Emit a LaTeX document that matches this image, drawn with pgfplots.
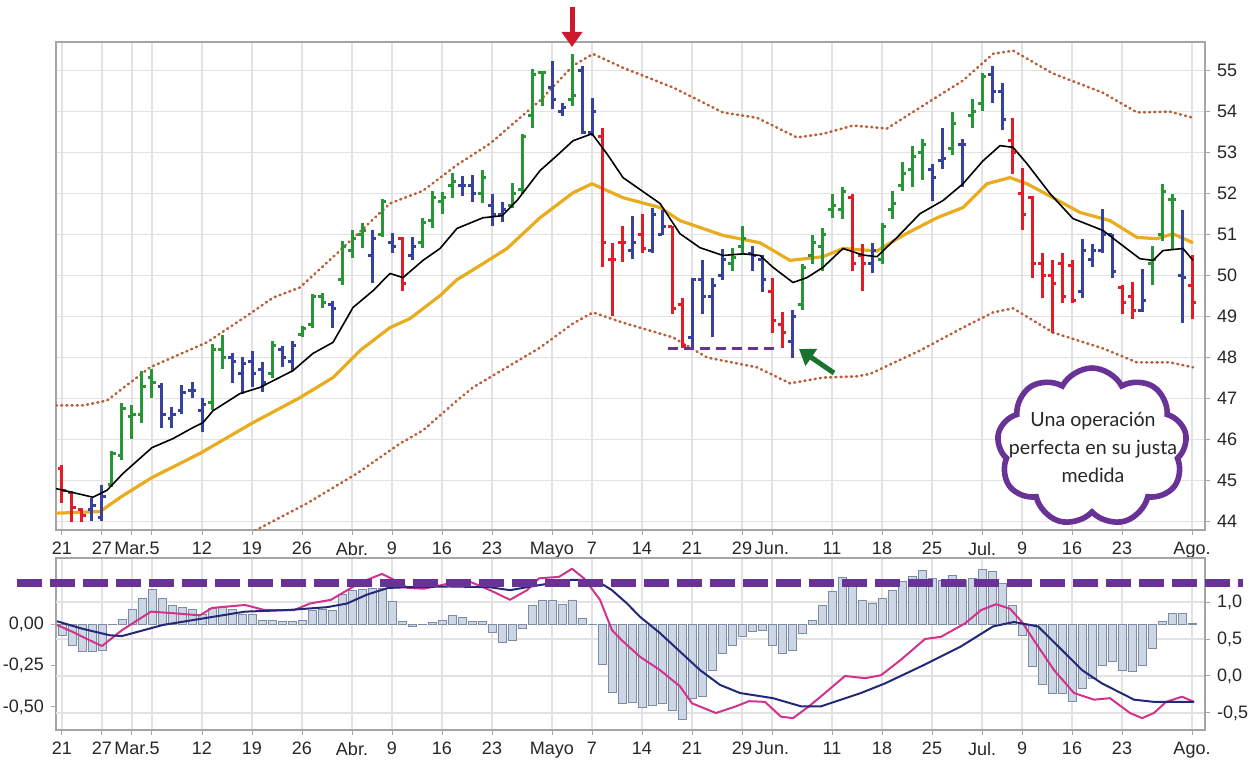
\documentclass[border=0pt]{standalone}
\usepackage{pgfplots}
\pgfplotsset{compat=1.18}
\usepackage{pgfplotstable}
\usepackage{fontspec}
\setmainfont{Liberation Sans}
\newfontfamily\cloudfont{Lato}
\usetikzlibrary{shapes.symbols,arrows.meta}

\definecolor{cgreen}{RGB}{40,150,55}
\definecolor{cblue}{RGB}{55,65,160}
\definecolor{cred}{RGB}{225,30,40}
\definecolor{cgold}{RGB}{232,172,30}
\definecolor{cband}{RGB}{185,95,55}
\definecolor{gridc}{RGB}{226,226,226}
\definecolor{framec}{RGB}{165,165,165}
\definecolor{histfill}{RGB}{205,214,228}
\definecolor{histedge}{RGB}{125,140,165}
\definecolor{cmag}{RGB}{210,50,140}
\definecolor{cnavy}{RGB}{35,40,120}
\definecolor{cpurple}{RGB}{105,50,150}
\definecolor{arrowred}{RGB}{205,25,45}
\definecolor{arrowgreen}{RGB}{25,115,45}

\pgfplotsset{/pgf/number format/assume math mode=true}

% i open high low close
\pgfplotstableread{
i o h l c
5 44.9 45.73 44.83 45.65
6 45.6 46.88 45.49 46.75
7 46.55 46.83 46.02 46.6
8 46.6 47.68 46.39 47.3
9 47.5 47.73 47.02 47.4
15 46.9 48.34 46.71 48.2
16 48.2 48.54 47.73 48.0
21 47.6 48.41 47.51 48.3
24 48.55 48.78 48.49 48.7
25 48.8 49.56 48.73 49.5
26 49.5 49.58 49.2 49.35
28 49.9 50.85 49.76 50.7
29 50.6 51.12 50.44 50.9
30 51.0 51.29 50.68 51.1
32 51.0 51.88 50.93 51.8
36 50.8 51.41 50.68 51.3
37 51.35 52.07 51.17 51.9
38 51.8 52.05 51.51 51.9
39 52.2 52.51 51.9 52.3
42 52.0 52.58 51.76 52.4
45 51.7 52.27 51.66 52.0
46 52.1 53.46 52.0 53.4
47 53.9 55.05 53.59 54.9
48 54.95 55.0 54.15 54.95
51 54.3 55.41 54.15 54.4
67 50.3 50.68 50.12 50.45
68 50.7 51.22 50.49 50.9
74 49.3 50.29 49.15 50.2
75 50.5 50.98 50.29 50.8
76 50.7 51.17 50.12 51.0
77 51.6 52.0 51.41 51.7
78 51.6 52.15 51.39 52.05
82 50.4 51.29 50.29 51.2
83 51.6 52.07 51.39 51.75
84 52.2 52.76 52.07 52.5
85 52.6 53.17 52.15 52.9
86 53.0 53.34 52.32 53.2
89 53.1 53.98 52.93 53.7
91 53.9 54.32 53.61 54.0
92 54.2 54.95 54.02 54.85
109 50.3 50.73 49.76 50.4
110 51.0 52.24 50.85 52.05
111 51.85 52.0 50.66 51.85
}\tabG

\pgfplotstableread{
i o h l c
3 44.3 44.56 44.02 44.4
4 44.1 44.88 44.02 44.6
10 47.3 47.37 46.27 46.6
11 46.5 46.78 46.27 46.6
12 46.7 47.32 46.63 47.15
13 47.2 47.4 47.0 47.2
14 46.7 47.0 46.17 46.85
17 48.0 48.12 47.37 47.9
18 47.6 48.0 47.12 47.85
19 47.9 48.17 47.27 47.6
20 47.7 47.88 47.15 47.4
22 48.2 48.29 47.76 48.0
23 47.9 48.41 47.68 48.3
27 49.3 49.39 48.73 49.2
31 50.5 51.1 49.83 50.9
33 50.8 51.05 50.54 50.7
35 50.5 50.93 50.37 50.7
40 52.2 52.43 51.95 52.2
41 52.2 52.46 51.8 52.0
43 51.7 52.0 51.2 51.5
44 51.5 51.8 51.3 51.6
49 54.6 55.24 54.07 54.3
50 54.0 54.22 53.9 54.1
52 55.0 55.12 53.46 53.5
53 53.5 54.34 53.41 54.0
57 50.6 51.46 50.41 50.8
59 50.6 51.66 50.56 51.5
60 51.0 51.59 50.98 51.2
63 48.5 49.93 48.24 49.9
64 49.9 50.37 49.07 49.5
65 49.5 49.95 48.49 49.75
66 50.0 50.66 49.88 50.4
69 50.55 50.71 50.12 50.5
70 50.4 50.49 49.59 49.9
73 48.4 49.15 47.98 49.0
81 50.3 50.8 50.05 50.6
87 52.6 52.73 51.83 52.4
88 52.8 53.61 52.61 52.85
90 53.2 53.34 52.15 53.2
93 54.9 55.12 54.22 54.5
94 54.5 54.71 53.54 53.8
102 49.6 50.9 49.44 50.6
103 50.4 50.78 50.2 50.6
104 50.6 51.63 50.56 51.0
105 51.0 51.02 49.95 50.1
108 49.15 50.15 49.1 49.4
112 50.0 51.59 48.85 49.95
}\tabB

\pgfplotstableread{
i o h l c
0 45.3 45.37 44.44 44.75
1 44.7 44.73 43.98 44.35
2 44.3 44.32 43.98 44.15
34 50.9 50.93 49.63 49.8
54 53.4 53.61 50.2 50.8
55 50.4 50.8 49.02 50.4
56 50.8 51.22 50.32 50.8
58 51.0 51.51 50.56 50.65
61 51.2 51.22 49.07 49.2
62 49.3 49.46 48.24 48.3
71 49.6 49.95 48.59 48.9
72 48.8 49.1 48.24 48.6
79 51.9 52.0 50.12 50.3
80 50.5 50.78 49.63 50.3
95 53.3 53.85 52.49 53.0
96 52.0 52.63 51.1 51.5
97 51.9 51.95 49.95 50.3
98 50.3 50.54 49.44 50.0
99 50.0 50.37 48.59 49.8
100 50.3 50.54 49.34 49.5
101 50.25 50.37 49.32 49.4
106 49.7 49.78 49.05 49.35
107 49.5 49.85 48.95 49.15
113 49.75 50.49 48.95 49.35
}\tabR

% MACD histogram (left scale)
\pgfplotstableread{
i v
0 -0.07
1 -0.13
2 -0.165
3 -0.165
4 -0.16
5 -0.005
6 0.026
7 0.087
8 0.157
9 0.207
10 0.155
11 0.11
12 0.10
13 0.09
14 0.055
15 0.095
16 0.10
17 0.09
18 0.06
19 0.055
20 0.02
21 0.024
22 0.015
23 0.015
24 0.02
25 0.08
26 0.09
27 0.08
28 0.18
29 0.20
30 0.21
31 0.215
32 0.215
33 0.135
34 0.015
35 -0.015
36 -0.005
37 0.01
38 0.024
39 0.05
40 0.04
41 0.015
42 0.015
43 -0.05
44 -0.11
45 -0.10
46 -0.025
47 0.11
48 0.145
49 0.14
50 0.12
51 0.145
52 0.035
53 -0.005
54 -0.245
55 -0.41
56 -0.478
57 -0.474
58 -0.502
59 -0.488
60 -0.478
61 -0.518
62 -0.574
63 -0.448
64 -0.438
65 -0.277
66 -0.177
67 -0.127
68 -0.072
69 -0.046
70 -0.036
71 -0.127
72 -0.177
73 -0.157
74 -0.056
75 0.024
76 0.114
77 0.195
78 0.279
79 0.255
80 0.145
81 0.124
82 0.155
83 0.205
84 0.255
85 0.285
86 0.321
87 0.275
88 0.265
89 0.295
90 0.265
91 0.275
92 0.329
93 0.315
94 0.245
95 0.114
96 -0.066
97 -0.257
98 -0.367
99 -0.418
100 -0.418
101 -0.468
102 -0.388
103 -0.327
104 -0.247
105 -0.227
106 -0.277
107 -0.287
108 -0.247
109 -0.147
110 0.016
111 0.066
112 0.066
113 0.003
}\tabH

\pgfplotsset{
  datexticks/.style={
    xtick={0,4,7,9,14,19,24,29,33,38,43,49,53,58,63,68,71,77,82,87,92,96,101,106,113},
    xticklabels={21,27,{Mar.\rlap{5}},{},12,19,26,Abr.,9,16,23,Mayo,7,14,21,29,Jun.,11,18,25,Jul.,9,16,23,Ago.},
  },
  panel/.style={
    scale only axis, width=574.5pt, anchor=south west,
    xmin=-0.6, xmax=114.3,
    datexticks,
    tick align=outside, major tick length=2.5pt,
    tick style={draw=framec, line width=0.5pt},
    axis line style={draw=framec, line width=1pt},
    grid style={draw=gridc, line width=0.7pt},
    ticklabel style={font=\fontsize{9}{10}\selectfont, text=black!85},
  },
  band/.style={cband, line width=1.3pt, line cap=round, dash pattern=on 0.5pt off 2.1pt},
}

\begin{document}
\begin{tikzpicture}
\useasboundingbox (0,0) rectangle (624.5pt,380.5pt);

% ---------------- upper panel ----------------
\begin{axis}[panel, at={(28pt,115.5pt)}, height=244pt,
  ymin=43.79, ymax=55.70, ytick={44,...,55},
  xtick pos=left, xticklabel pos=left,
  ytick pos=right, yticklabel pos=right,
  xmajorgrids, ymajorgrids]
  % bands
  \addplot[band] coordinates {
   (-0.6,46.83) (2.1,46.83) (4.5,46.95) (8.8,47.76) (14.5,48.37) (18.8,49.07) (21.1,49.46) (23.8,49.71) (27.8,50.61) (32.8,51.76) (36.1,52.07) (39.5,52.7) (42.8,53.22) (47.8,54.27) (51.1,55.12) (53.1,55.41) (56.1,55.07) (61.1,54.59) (66.1,53.98) (69.5,53.85) (73.5,53.37) (76.1,53.46) (79.1,53.66) (82.5,53.59) (85.8,54.1) (90.1,54.76) (93.1,55.41) (95.1,55.49) (99.1,54.93) (104.1,54.46) (107.5,53.98) (110.8,54.0) (113.1,53.85)};
  \addplot[band] coordinates {
   (13.8,43.05) (19.5,43.8) (24.5,44.44) (29.5,45.17) (33.8,45.9) (36.1,46.22) (39.5,46.95) (41.1,47.27) (47.8,48.24) (51.1,48.83) (53.1,49.1) (56.1,48.85) (61.1,48.49) (64.5,48.0) (69.5,47.76) (72.8,47.37) (76.1,47.51) (79.5,47.54) (80.8,47.6) (85.8,48.17) (90.1,48.73) (93.1,49.1) (95.1,49.2) (99.1,48.61) (104.1,48.22) (107.5,47.88) (110.8,47.88) (113.1,47.76)};
  % slow average
  \addplot[cgold, line width=1.6pt] coordinates {
   (-0.6,44.2) (3.8,44.24) (6.1,44.63) (9.0,45.07) (13.8,45.66) (19.1,46.41) (23.8,47.02) (27.1,47.51) (29.8,48.17) (32.8,48.73) (34.8,48.95) (37.8,49.51) (39.5,49.9) (42.1,50.29) (44.5,50.66) (47.8,51.41) (51.1,52.02) (53.0,52.24) (56.1,51.9) (59.8,51.66) (61.8,51.34) (66.1,50.98) (69.8,50.8) (72.8,50.37) (76.1,50.46) (78.1,50.66) (81.5,50.6) (84.1,50.98) (87.5,51.41) (90.1,51.66) (92.5,52.24) (94.8,52.39) (96.5,52.24) (99.1,51.9) (101.8,51.54) (104.8,51.34) (107.5,50.93) (109.5,50.9) (111.1,51.02) (113.1,50.8)};
  % bars
  \addplot[cgreen, line width=1.5pt, no markers, quiver={u=0, v=\thisrow{h}-\thisrow{l}}] table[x=i, y=l] \tabG;
  \addplot[cgreen, line width=1.5pt, no markers, quiver={u=-0.4, v=0}] table[x=i, y=o] \tabG;
  \addplot[cgreen, line width=1.5pt, no markers, quiver={u=0.4, v=0}] table[x=i, y=c] \tabG;
  \addplot[cblue, line width=1.5pt, no markers, quiver={u=0, v=\thisrow{h}-\thisrow{l}}] table[x=i, y=l] \tabB;
  \addplot[cblue, line width=1.5pt, no markers, quiver={u=-0.4, v=0}] table[x=i, y=o] \tabB;
  \addplot[cblue, line width=1.5pt, no markers, quiver={u=0.4, v=0}] table[x=i, y=c] \tabB;
  \addplot[cred, line width=1.5pt, no markers, quiver={u=0, v=\thisrow{h}-\thisrow{l}}] table[x=i, y=l] \tabR;
  \addplot[cred, line width=1.5pt, no markers, quiver={u=-0.4, v=0}] table[x=i, y=o] \tabR;
  \addplot[cred, line width=1.5pt, no markers, quiver={u=0.4, v=0}] table[x=i, y=c] \tabR;
  % fast average
  \addplot[black, line width=0.8pt, line join=round] coordinates {
   (-0.6,44.8) (3.1,44.59) (4.5,44.76) (6.1,45.17) (9.0,45.8) (11.1,46.02) (13.1,46.29) (14.1,46.41) (15.1,46.7) (17.8,47.12) (19.8,47.27) (23.1,47.68) (25.1,48.1) (27.1,48.37) (29.1,49.22) (31.1,49.63) (32.8,50.05) (34.1,49.95) (36.1,50.37) (37.8,50.66) (39.5,51.15) (42.1,51.41) (44.0,51.46) (45.5,51.83) (47.8,52.56) (49.5,52.93) (51.1,53.29) (53.0,53.46) (54.5,52.97) (56.1,52.39) (59.8,51.76) (61.8,51.02) (63.8,50.68) (66.1,50.49) (68.1,50.53) (69.8,50.49) (71.1,50.2) (73.1,49.83) (74.5,49.95) (76.1,50.2) (78.1,50.66) (80.1,50.5) (81.5,50.46) (83.5,50.93) (85.8,51.51) (88.1,51.83) (90.1,52.24) (92.1,52.8) (93.8,53.17) (95.1,53.13) (96.5,52.73) (98.8,52.0) (101.1,51.39) (104.1,51.1) (105.8,50.78) (107.8,50.41) (109.1,50.37) (110.1,50.61) (112.1,50.66) (113.1,50.37)};
  % support line
  \draw[cpurple, line width=1.5pt, dash pattern=on 5pt off 3pt] (axis cs:60.6,48.22) -- (axis cs:71.8,48.22);
\end{axis}

% ---------------- lower panel: histogram (left scale) ----------------
\begin{axis}[panel, at={(28pt,15.5pt)}, height=86pt,
  ymin=-0.639, ymax=0.398, ytick={-0.5,-0.25,0},
  xtick pos=left, xticklabel pos=left,
  ytick pos=left, yticklabel pos=left,
  yticklabel style={/pgf/number format/.cd, fixed, fixed zerofill, precision=2, use comma},
  xmajorgrids,
  extra y ticks={0.1325,-0.0904,-0.3133,-0.5361},
  extra y tick labels={},
  extra y tick style={grid=major, major tick length=0pt}]
  \addplot[ybar, bar width=0.8, fill=histfill, draw=histedge, line width=0.4pt] table[x=i, y=v] \tabH;
\end{axis}

% ---------------- lower panel: lines (right scale) ----------------
\begin{axis}[panel, at={(28pt,15.5pt)}, height=86pt,
  ymin=-0.730, ymax=1.595, ytick={-0.5,0,0.5,1},
  axis x line=none, axis y line*=right,
  yticklabel style={/pgf/number format/.cd, fixed, fixed zerofill, precision=1, use comma}]
  \addplot[cmag, line width=1pt, line join=round] coordinates {
   (-0.5,0.69) (1,0.6) (2.5,0.5) (4.0,0.405) (6.0,0.62) (8.9,0.87) (11.0,0.85) (13.8,0.82) (15.0,0.92) (18.3,0.96) (20.3,0.89) (23.2,0.89) (24.8,0.98) (26.9,1.03) (28.9,1.19) (30.5,1.30) (32.0,1.38) (33.2,1.30) (34.6,1.19) (36.2,1.18) (38.7,1.25) (40.7,1.28) (42.8,1.16) (44.8,1.03) (46.5,1.16) (47.7,1.32) (49.7,1.34) (51.0,1.45) (52.2,1.32) (53.8,1.03) (55.0,0.62) (56.0,0.48) (57.8,0.26) (59.8,0.08) (61.8,-0.14) (63.0,-0.37) (65.4,-0.5) (67.4,-0.41) (68.7,-0.34) (70.3,-0.35) (71.9,-0.55) (73.1,-0.57) (74.7,-0.41) (76.3,-0.23) (78.3,0.0) (80.3,-0.03) (81.9,0.01) (83.9,0.22) (86.3,0.5) (87.9,0.53) (90.3,0.71) (91.9,0.89) (93.4,0.97) (94.8,0.91) (96.0,0.73) (97.2,0.48) (99.2,0.08) (101.2,-0.23) (103.2,-0.32) (104.8,-0.30) (106.8,-0.5) (108.0,-0.57) (109.2,-0.5) (110.4,-0.35) (112.0,-0.28) (113.2,-0.35)};
  \addplot[cnavy, line width=1pt, line join=round] coordinates {
   (-0.5,0.74) (2,0.64) (4.8,0.55) (6.0,0.54) (10.1,0.69) (14.2,0.78) (18.3,0.87) (22.4,0.89) (26.5,0.93) (28.5,0.98) (30.5,1.1) (32.6,1.19) (34.6,1.2) (38.7,1.21) (42.8,1.2) (44.8,1.16) (46.9,1.21) (51.0,1.3) (52.2,1.3) (53.8,1.26) (55.0,1.16) (56.5,0.98) (57.8,0.8) (59.8,0.58) (61.8,0.33) (63.8,0.08) (65.8,-0.12) (67.8,-0.23) (71.1,-0.3) (73.9,-0.41) (75.9,-0.41) (79.9,-0.23) (82.3,-0.1) (85.9,0.13) (89.9,0.4) (93.1,0.67) (95.2,0.73) (97.6,0.67) (100.0,0.35) (102.0,0.08) (104.0,-0.1) (107.2,-0.32) (109.2,-0.35) (113.2,-0.35)};
\end{axis}

% ---------------- annotations ----------------
\draw[cpurple, line width=4pt, dash pattern=on 12.5pt off 4pt] (8.5pt,89pt) -- (621.5pt,89pt);
\draw[arrowred, line width=2.5pt, -{Triangle[length=7.5pt,width=10pt]}] (286pt,377pt) -- (286pt,357pt);
\draw[arrowgreen, line width=2.5pt, -{Triangle[length=7.5pt,width=10pt]}] (417pt,194pt) -- (399.5pt,206pt);
\node[cloud, cloud puffs=9, cloud puff arc=125, aspect=1.2, minimum width=95pt, minimum height=79pt,
      draw=cpurple, line width=2.8pt, fill=white, inner sep=0pt] at (546pt,157pt) {};
\node[align=center, font=\cloudfont\fontsize{9.8}{14}\selectfont, text=black!85] at (546.5pt,157pt)
  {Una operación\\perfecta en su justa\\medida};
\end{tikzpicture}
\end{document}
